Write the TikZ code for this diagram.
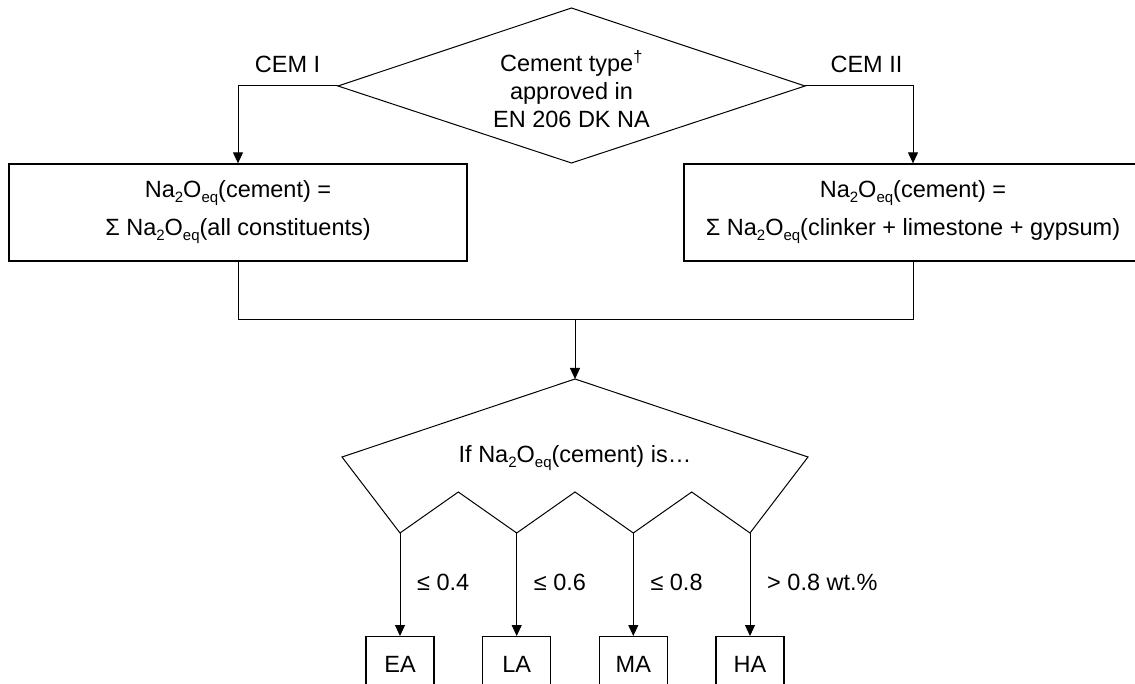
\documentclass[tikz,border=0pt]{standalone}
\usepackage{fontspec}
\setmainfont{Liberation Sans}
\usetikzlibrary{arrows.meta}
% chemical subscripts
\newcommand\sbx[1]{\raisebox{-5pt}{\fontsize{15}{15}\selectfont #1}}
\newcommand\naoeq{Na\sbx{2}O\sbx{eq}}
\begin{document}
\begin{tikzpicture}[x=1pt,y=-1pt,
  txt/.style={font=\fontsize{23.5}{28}\selectfont, inner sep=0pt},
  line/.style={line width=1pt, draw=black},
  arr/.style={line, -{Triangle[length=11pt,width=10pt]}},
  boxx/.style={draw, line width=1.3pt, inner sep=0pt, align=center,
    font=\fontsize{23.5}{38}\selectfont},
  ]
\useasboundingbox (0,0) rectangle (1135,684);
\fill[white] (0,0) rectangle (1135,684);

% first decision: cement type
\coordinate (dT) at (571.5,8);
\coordinate (dR) at (805,86);
\coordinate (dB) at (571.5,163);
\coordinate (dL) at (338,86);
\draw[line] (dT) -- (dR) -- (dB) -- (dL) -- cycle;
\node[txt, align=center] (dtext) at (571.5,89)
  {Cement type\textsuperscript{†}\\approved in\\EN 206 DK NA};

% equivalent alkali content boxes
\node[boxx, minimum width=458pt, minimum height=97pt] (b1) at (238,212.5)
  {\naoeq(cement) =\\Σ \naoeq(all constituents)};
\node[boxx, minimum width=458pt, minimum height=97pt] (b2) at (913,212.5)
  {\naoeq(cement) =\\Σ \naoeq(clinker + limestone + gypsum)};

\coordinate (c1) at (238,86);
\coordinate (c2) at (913,86);
\draw[arr] (dL) -- (c1) -- (b1.north);
\draw[arr] (dR) -- (c2) -- (b2.north);
\node[txt, anchor=base] (lab1) at (287.5,73) {CEM I};
\node[txt, anchor=base] (lab2) at (866.5,73) {CEM II};

% second decision: classification
\coordinate (sT) at (575,379);
\coordinate (sL) at (342,457);
\coordinate (sR) at (808,457);
\coordinate (o1) at (400,533);
\coordinate (o2) at (516.7,533);
\coordinate (o3) at (633.3,533);
\coordinate (o4) at (750,533);
\coordinate (p1) at (458.3,492);
\coordinate (p2) at (575,492);
\coordinate (p3) at (691.7,492);

\coordinate (m1) at (238,320);
\coordinate (m2) at (913,320);
\coordinate (mc) at (575,320);
\draw[line] (b1.south) -- (m1) -- (m2) -- (b2.south);
\draw[arr] (mc) -- (sT);

\draw[line] (sT) -- (sR) -- (o4) -- (p3) -- (o3) -- (p2) -- (o2) -- (p1) -- (o1) -- (sL) -- cycle;
\node[txt] (stext) at (575,458) {If \naoeq(cement) is…};

\foreach \x/\nm/\lb [count=\i] in {400/EA/{≤ 0.4}, 516.7/LA/{≤ 0.6},
    633.3/MA/{≤ 0.8}, 750/HA/{> 0.8 wt.\%}} {
  \node[boxx, minimum width=68pt, minimum height=56pt, anchor=north] (r\i) at (\x,636) {\nm};
  \draw[arr] (o\i) -- (r\i.north);
  \node[txt, anchor=west] (l\i) at (\x+17,582) {\lb};
}
\end{tikzpicture}
\end{document}
